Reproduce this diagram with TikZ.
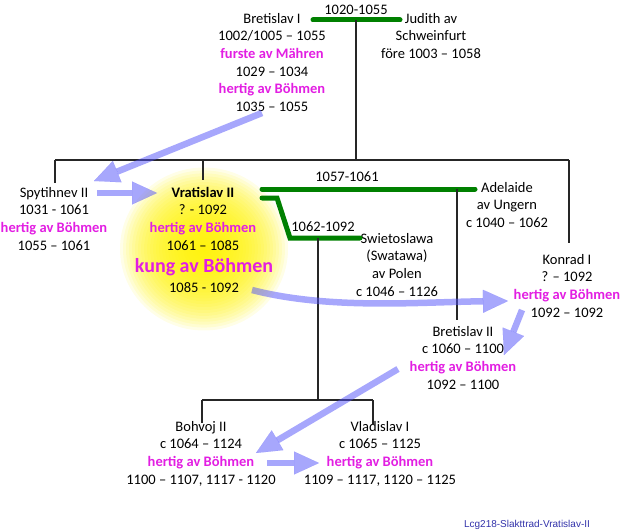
\documentclass[tikz,border=0pt]{standalone}
\usepackage{fontspec}
\setmainfont{Carlito}
\setsansfont{Liberation Sans}
\usetikzlibrary{arrows.meta}
\definecolor{mag}{RGB}{226,30,226}
\definecolor{grn}{RGB}{0,128,0}
\definecolor{arr}{RGB}{80,80,250}
\definecolor{lbl}{RGB}{50,50,170}
\newcommand\magb[1]{\textcolor{mag}{\textbf{#1}}}
\tikzset{
  person/.style={align=center, inner sep=0pt, anchor=north, font=\fontsize{14.5}{17.6}\selectfont},
  lab/.style={inner sep=0pt, font=\fontsize{14.5}{17.6}\selectfont},
  marr/.style={draw=grn, line width=5pt, line cap=round},
  kin/.style={draw=black!85, line width=1.1pt},
  succ/.style={draw=arr, line width=6.5pt, draw opacity=0.5, fill opacity=0.5,
    -{Triangle[width=23pt,length=25pt,line width=0.01pt,fill=arr]}},
  glowring/.style={fill=yellow, fill opacity=0.095},
}
\begin{document}
\begin{tikzpicture}[x=1pt,y=-1pt]
\useasboundingbox (0,0) rectangle (621,532);
% glow
\coordinate (gc) at (204,249);
\foreach \r in {3,6,...,84} {\fill[glowring] (gc) circle ({\r pt} and {0.97*\r pt});}

% persons
\node[person] (bret1) at (272,13) {Bretislav I\\1002/1005 – 1055\\\magb{furste av Mähren}\\1029 – 1034\\\magb{hertig av Böhmen}\\1035 – 1055};
\node[person] (judith) at (431,13) {Judith av\\Schweinfurt\\före 1003 – 1058};
\node[person] (spyt) at (54,187) {Spytihnev II\\1031 - 1061\\\magb{hertig av Böhmen}\\1055 – 1061};
\node[person] (vrat) at (203,187) {\textbf{Vratislav II}\\? - 1092\\\magb{hertig av Böhmen}\\1061 – 1085};
\node[lab, text=mag, font=\bfseries\fontsize{20}{22}\selectfont] (kung) at (204,267) {kung av Böhmen};
\node[lab] (vratb) at (204,288) {1085 - 1092};
\node[person] (adel) at (507,182) {Adelaide\\av Ungern\\c 1040 – 1062};
\node[person] (swiet) at (397,233) {Swietoslawa\\(Swatawa)\\av Polen\\c 1046 – 1126};
\node[person] (konrad) at (567,254) {Konrad I\\? – 1092\\\magb{hertig av Böhmen}\\1092 – 1092};
\node[person] (bret2) at (463,326) {Bretislav II\\c 1060 – 1100\\\magb{hertig av Böhmen}\\1092 – 1100};
\node[person] (bohvoj) at (201,421) {Bohvoj II\\c 1064 – 1124\\\magb{hertig av Böhmen}\\1100 – 1107, 1117 - 1120};
\node[person] (vlad) at (380,421) {Vladislav I\\c 1065 – 1125\\\magb{hertig av Böhmen}\\1109 – 1117, 1120 – 1125};

% marriage 1
\coordinate (m1a) at (313,20);
\coordinate (m1b) at (400,20);
\coordinate (m1c) at (356,20);
\draw[marr] (m1a) -- (m1b);
\node[lab] (y1) at (356,10) {1020-1055};
\coordinate (g1) at (356,160);
\coordinate (g1l) at (55,160);
\coordinate (g1r) at (569,160);
\coordinate (g1v) at (203,160);
\draw[kin] (m1c) -- (g1);
\draw[kin] (g1l) -- (g1r);
\draw[kin] (g1l) -- (55,183);
\draw[kin] (g1v) -- (203,180);
\draw[kin] (g1r) -- (569,243);

% marriage 2
\coordinate (m2a) at (262,189);
\coordinate (m2b) at (475,189);
\draw[marr] (m2a) -- (m2b);
\node[lab] (y2) at (347,177) {1057-1061};
\coordinate (m2c) at (457,189);
\draw[kin] (m2c) -- (457,320);

% marriage 3
\coordinate (m3a) at (262,198);
\coordinate (m3b) at (360,238);
\draw[marr] (m3a) -- (277,198) -- (290,238) -- (m3b);
\node[lab] (y3) at (323,227) {1062-1092};
\coordinate (m3c) at (318,238);
\coordinate (g3) at (318,400);
\draw[kin] (m3c) -- (g3);
\draw[kin] (202,400) -- (373,400);
\draw[kin] (202,400) -- (202,423);
\draw[kin] (373,400) -- (373,425);

% succession arrows
\coordinate (s1a) at (262,113); \coordinate (s1b) at (94,181);
\coordinate (s2a) at (97,193);  \coordinate (s2b) at (157,193);
\coordinate (s3a) at (252,290); \coordinate (s3b) at (508,301);
\coordinate (s4a) at (522,310); \coordinate (s4b) at (504,355);
\coordinate (s5a) at (398,369); \coordinate (s5b) at (256,453);
\coordinate (s6a) at (267,463); \coordinate (s6b) at (319,463);
\draw[succ] (s1a) -- (s1b);
\draw[succ] (s2a) -- (s2b);
\draw[succ] (s3a) .. controls (330,310) and (420,302) .. (s3b);
\draw[succ] (s4a) -- (s4b);
\draw[succ] (s5a) -- (s5b);
\draw[succ] (s6a) -- (s6b);

\node[font=\sffamily\fontsize{10}{12}\selectfont, text=lbl, inner sep=0pt] (cap) at (527,525) {Lcg218-Slakttrad-Vratislav-II};
\end{tikzpicture}
\end{document}
